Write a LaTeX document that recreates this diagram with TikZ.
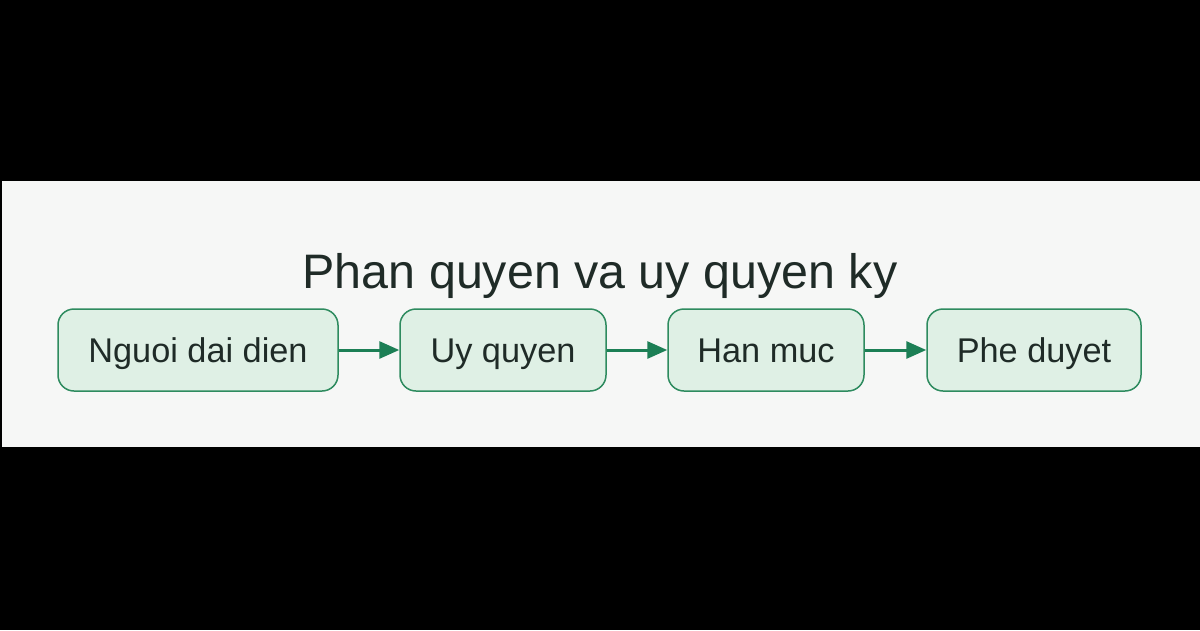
\documentclass[tikz,border=0pt]{standalone}
\usepackage{fontspec}
\setmainfont{Liberation Sans}
\usetikzlibrary{arrows.meta}

\definecolor{bandgray}{HTML}{F6F7F6}
\definecolor{boxfill}{HTML}{DFF0E5}
\definecolor{boxline}{HTML}{2E8B5F}
\definecolor{arrowgreen}{HTML}{1C7F55}
\definecolor{inkdark}{HTML}{1F2B27}

\tikzset{
  stepbox/.style={draw=boxline, fill=boxfill, line width=1.5pt, rounded corners=16pt,
    minimum height=82pt, inner sep=0pt, text=inkdark, text height=24.5pt, text depth=0pt,
    font=\fontsize{34.3}{40}\selectfont},
  flow/.style={draw=arrowgreen, line width=3pt, -{Triangle[length=20pt,width=17pt]}}
}

\begin{document}
\begin{tikzpicture}[x=1pt,y=-1pt]
	\fill[black] (0,0) rectangle (1200,630);
	\useasboundingbox (0,0) rectangle (1200,630);
	\fill[bandgray] (2,181) rectangle (1200,447);

	\node[anchor=base, text=inkdark, font=\fontsize{48.4}{58}\selectfont] (title) at (600,288) {Phan quyen va uy quyen ky};

	\node[stepbox, minimum width=280pt] (rep) at (198,350) {Nguoi dai dien};
	\node[stepbox, minimum width=206pt] (auth) at (503,350) {Uy quyen};
	\node[stepbox, minimum width=196pt] (limit) at (766,350) {Han muc};
	\node[stepbox, minimum width=214pt] (approve) at (1034,350) {Phe duyet};

	\draw[flow] (rep) -- (auth);
	\draw[flow] (auth) -- (limit);
	\draw[flow] (limit) -- (approve);
\end{tikzpicture}
\end{document}
